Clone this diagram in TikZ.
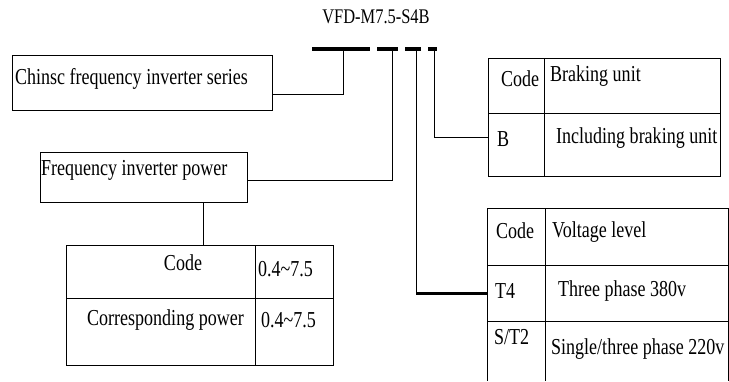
\documentclass[tikz,border=0pt]{standalone}
\usepackage{fontspec}
\setmainfont{Liberation Serif}[FakeStretch=0.79]
\usetikzlibrary{positioning}

\tikzset{
  cell/.style={draw,line width=0.9pt,anchor=north west,inner sep=0pt},
  gap/.style={anchor=north west,inner sep=0pt},
  txt/.style={anchor=west,inner sep=0pt,font=\fontsize{22.8}{26}\selectfont},
  seg/.style={fill=black,inner sep=0pt,minimum height=3.5pt},
  wire/.style={line width=0.9pt},
  heavywire/.style={line width=2.6pt},
}

\begin{document}
\begin{tikzpicture}[x=1pt,y=-1pt]
  \useasboundingbox (0,0) rectangle (729,381);
  % model code and its segments
  \node[font=\fontsize{20.8}{24}\selectfont,inner sep=0pt] (model) at (376,17) {VFD-M7.5-S4B};
  \node[seg,minimum width=58pt] (seg1) at (341,49) {};
  \node[seg,minimum width=21pt] (seg2) at (387.5,49) {};
  \node[seg,minimum width=16pt] (seg3) at (413,49) {};
  \node[seg,minimum width=9pt] (seg4) at (432.5,49) {};

  % series and power boxes
  \node[cell,minimum width=260pt,minimum height=55pt] (series) at (12,55) {};
  \node[txt] (seriestxt) at (15,79) {Chinsc frequency inverter series};
  \node[cell,minimum width=207pt,minimum height=50pt] (power) at (40,152) {};
  \node[txt] (powertxt) at (41,170) {Frequency inverter power};

  % power table
  \node[cell,minimum width=189pt,minimum height=53pt] (pcode) at (66,245) {};
  \node[cell,minimum width=78pt,minimum height=53pt] (pval) at (255,245) {};
  \node[cell,minimum width=189pt,minimum height=67pt] (pname) at (66,298) {};
  \node[cell,minimum width=78pt,minimum height=67pt] (pval2) at (255,298) {};
  \node[txt,anchor=center] (pcodetxt) at (183,263) {Code};
  \node[txt] (pvaltxt) at (258,269) {0.4\textasciitilde7.5};
  \node[txt] (pnametxt) at (87,320) {Corresponding power};
  \node[txt] (pval2txt) at (261,320) {0.4\textasciitilde7.5};

  % braking table
  \node[cell,minimum width=56pt,minimum height=55pt] (bcode) at (488,58) {};
  \node[cell,minimum width=176pt,minimum height=55pt] (bname) at (544,58) {};
  \node[cell,minimum width=56pt,minimum height=63pt] (bb) at (488,113) {};
  \node[cell,minimum width=176pt,minimum height=63pt] (bincl) at (544,113) {};
  \node[txt] (bcodetxt) at (501,79) {Code};
  \node[txt] (bnametxt) at (550,76) {Braking unit};
  \node[txt] (bbtxt) at (497,139) {B};
  \node[txt] (bincltxt) at (556,138) {Including braking unit};

  % voltage table, open at the bottom
  \node[cell,minimum width=58pt,minimum height=57pt] (vcode) at (487,208) {};
  \node[cell,minimum width=183pt,minimum height=57pt] (vname) at (545,208) {};
  \node[cell,minimum width=58pt,minimum height=56pt] (vt4) at (487,265) {};
  \node[cell,minimum width=183pt,minimum height=56pt] (vt4v) at (545,265) {};
  \node[gap,minimum width=58pt,minimum height=60pt] (vst2) at (487,321) {};
  \node[gap,minimum width=183pt,minimum height=60pt] (vst2v) at (545,321) {};
  \draw[wire] (vst2.north west) -- (vst2.south west)
    (vst2v.north west) -- (vst2v.south west)
    (vst2v.north east) -- (vst2v.south east);
  \node[txt] (vcodetxt) at (496,231) {Code};
  \node[txt] (vnametxt) at (552,232) {Voltage level};
  \node[txt] (vt4txt) at (495,291) {T4};
  \node[txt] (vt4vtxt) at (558,291) {Three phase 380v};
  \node[txt] (vst2txt) at (494,337) {S/T2};
  \node[txt] (vst2vtxt) at (551,349) {Single/three phase 220v};

  % connectors
  \draw[wire] ([xshift=2pt]seg1.center) |- ([yshift=-11.5pt]series.east);
  \draw[wire] ([xshift=4.5pt]seg2.center) |- ([yshift=-3pt]power.east);
  \coordinate (c3) at ([xshift=3pt]seg3.center);
  \draw[wire] (c3) -- (c3 |- vt4.west);
  \draw[heavywire] (c3 |- vt4.west) -- (vt4.west);
  \draw[wire] ([xshift=1.5pt]seg4.center) |- ([yshift=7.5pt]bb.west);
  \draw[wire] ([xshift=59.5pt]power.south) coordinate (pc) -- (pc |- pcode.north);
\end{tikzpicture}
\end{document}
